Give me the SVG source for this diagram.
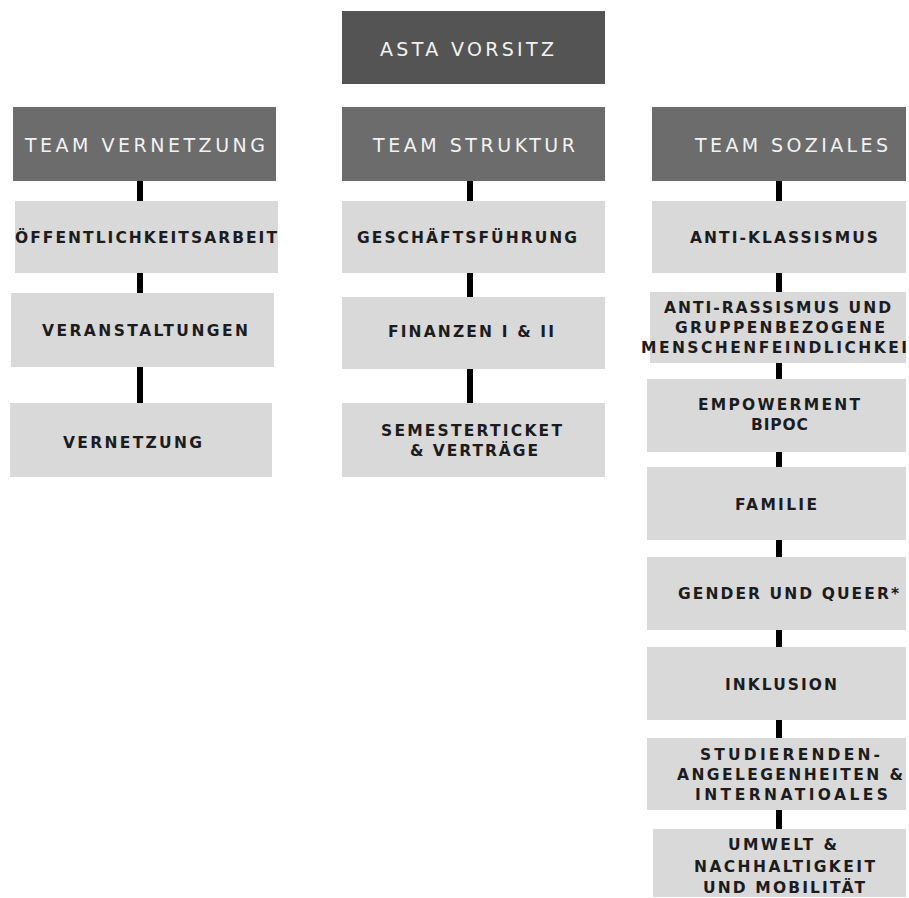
<svg xmlns="http://www.w3.org/2000/svg" width="909" height="898" viewBox="0 0 909 898">
<style>
.top{fill:#545454}
.head{fill:#6c6c6c}
.item{fill:#d9d9d9}
.ht{font-family:"DejaVu Sans","Liberation Sans",sans-serif;font-size:19px;fill:#f2f2f2}
.it{font-family:"DejaVu Sans","Liberation Sans",sans-serif;font-size:15.5px;font-weight:700;fill:#1c1c1e}
.con line{stroke:#000;stroke-width:6}
</style>
<rect width="909" height="898" fill="#fff"/>
<g class="con">
<line x1="140" y1="181" x2="140" y2="201"/>
<line x1="140" y1="273" x2="140" y2="293"/>
<line x1="140" y1="367" x2="140" y2="403"/>
<line x1="470" y1="181" x2="470" y2="201"/>
<line x1="470" y1="273" x2="470" y2="297"/>
<line x1="470" y1="369" x2="470" y2="403"/>
<line x1="779" y1="181" x2="779" y2="201"/>
<line x1="779" y1="273" x2="779" y2="292"/>
<line x1="779" y1="363" x2="779" y2="379"/>
<line x1="779" y1="452" x2="779" y2="467"/>
<line x1="779" y1="540" x2="779" y2="557"/>
<line x1="779" y1="630" x2="779" y2="647"/>
<line x1="779" y1="720" x2="779" y2="738"/>
<line x1="779" y1="810" x2="779" y2="829"/>
</g>
<g id="asta"><rect class="top" x="342" y="11" width="263" height="73"/><text class="ht" x="380" y="56" textLength="174" lengthAdjust="spacing">ASTA VORSITZ</text></g>
<g id="team-vernetzung"><rect class="head" x="13" y="107" width="263" height="74"/><text class="ht" x="25" y="152" textLength="240" lengthAdjust="spacing">TEAM VERNETZUNG</text></g>
<g id="team-struktur"><rect class="head" x="342" y="107" width="263" height="74"/><text class="ht" x="373" y="152" textLength="202" lengthAdjust="spacing">TEAM STRUKTUR</text></g>
<g id="team-soziales"><rect class="head" x="652" y="107" width="254" height="74"/><text class="ht" x="695" y="152" textLength="193" lengthAdjust="spacing">TEAM SOZIALES</text></g>

<g id="oeffentlichkeitsarbeit"><rect class="item" x="15" y="201" width="263" height="72"/><text class="it" x="15" y="243" textLength="262" lengthAdjust="spacing">ÖFFENTLICHKEITSARBEIT</text></g>
<g id="veranstaltungen"><rect class="item" x="11" y="293" width="263" height="74"/><text class="it" x="42" y="336" textLength="206" lengthAdjust="spacing">VERANSTALTUNGEN</text></g>
<g id="vernetzung"><rect class="item" x="10" y="403" width="262" height="74"/><text class="it" x="63" y="448" textLength="139" lengthAdjust="spacing">VERNETZUNG</text></g>

<g id="geschaeftsfuehrung"><rect class="item" x="342" y="201" width="263" height="72"/><text class="it" x="357" y="243" textLength="220" lengthAdjust="spacing">GESCHÄFTSFÜHRUNG</text></g>
<g id="finanzen"><rect class="item" x="342" y="297" width="263" height="72"/><text class="it" x="388" y="337" textLength="166" lengthAdjust="spacing">FINANZEN  I &amp; II</text></g>
<g id="semesterticket"><rect class="item" x="342" y="403" width="263" height="74"/><text class="it" x="381" y="436" textLength="181" lengthAdjust="spacing">SEMESTERTICKET</text><text class="it" x="410" y="456" textLength="128" lengthAdjust="spacing">&amp; VERTRÄGE</text></g>

<g id="anti-klassismus"><rect class="item" x="652" y="201" width="254" height="72"/><text class="it" x="690" y="243" textLength="188" lengthAdjust="spacing">ANTI-KLASSISMUS</text></g>
<g id="anti-rassismus"><rect class="item" x="650" y="292" width="256" height="71"/><text class="it" x="664" y="313" textLength="227" lengthAdjust="spacing">ANTI-RASSISMUS UND</text><text class="it" x="675" y="333" textLength="210" lengthAdjust="spacing">GRUPPENBEZOGENE</text><text class="it" x="641" y="353" textLength="266" lengthAdjust="spacing">MENSCHENFEINDLICHKEI</text></g>
<g id="empowerment"><rect class="item" x="647" y="379" width="259" height="73"/><text class="it" x="698" y="410" textLength="162" lengthAdjust="spacing">EMPOWERMENT</text><text class="it" x="751" y="430" textLength="57" lengthAdjust="spacing">BIPOC</text></g>
<g id="familie"><rect class="item" x="647" y="467" width="259" height="73"/><text class="it" x="735" y="510" textLength="82" lengthAdjust="spacing">FAMILIE</text></g>
<g id="gender"><rect class="item" x="647" y="557" width="259" height="73"/><text class="it" x="678" y="599" textLength="221" lengthAdjust="spacing">GENDER UND QUEER*</text></g>
<g id="inklusion"><rect class="item" x="647" y="647" width="259" height="73"/><text class="it" x="725" y="690" textLength="112" lengthAdjust="spacing">INKLUSION</text></g>
<g id="studierenden"><rect class="item" x="647" y="738" width="259" height="72"/><text class="it" x="700" y="760" textLength="180" lengthAdjust="spacing">STUDIERENDEN-</text><text class="it" x="677" y="780" textLength="226" lengthAdjust="spacing">ANGELEGENHEITEN &amp;</text><text class="it" x="695" y="800" textLength="193" lengthAdjust="spacing">INTERNATIOALES</text></g>
<g id="umwelt"><rect class="item" x="653" y="829" width="253" height="68"/><text class="it" x="728" y="850" textLength="109" lengthAdjust="spacing">UMWELT &amp;</text><text class="it" x="694" y="872" textLength="181" lengthAdjust="spacing">NACHHALTIGKEIT</text><text class="it" x="703" y="893" textLength="162" lengthAdjust="spacing">UND MOBILITÄT</text></g>
</svg>
